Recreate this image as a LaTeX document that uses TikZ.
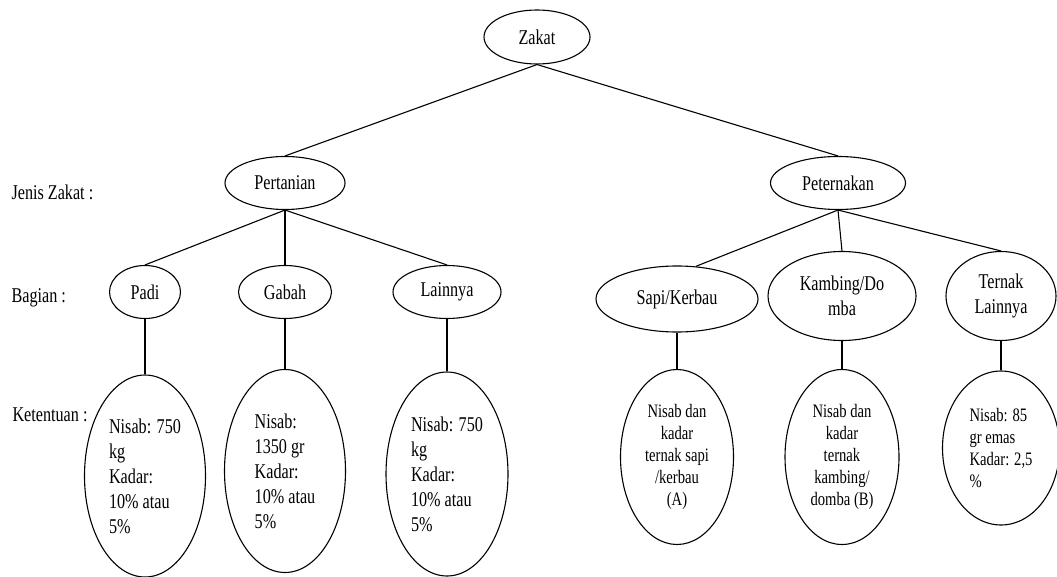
\documentclass[tikz,border=0pt]{standalone}
\usepackage{fontspec}
\setmainfont[FakeStretch=0.77]{Liberation Serif}
\usepackage{tikz}
\usetikzlibrary{shapes.geometric}

\begin{document}
\begin{tikzpicture}[x=1pt, y=-1pt, line width=1.1pt,
  oval/.style={draw, ellipse, inner sep=0pt, align=center,
    font=\fontsize{21}{25}\selectfont},
  rule/.style={draw, ellipse, inner sep=0pt, align=left,
    font=\fontsize{21}{25}\selectfont},
  rulesmall/.style={draw, ellipse, inner sep=0pt, align=center,
    font=\fontsize{19}{22}\selectfont},
  rowlabel/.style={anchor=west, inner sep=0pt,
    font=\fontsize{21}{25}\selectfont}]
  \useasboundingbox (0,0) rectangle (1057,577);

  % ── Row labels ──
  \node[rowlabel] (lblJenis) at (11,192) {Jenis Zakat :};
  \node[rowlabel] (lblBagian) at (11,298) {Bagian :};
  \node[rowlabel] (lblKetentuan) at (12,415) {Ketentuan :};

  % ── Root ──
  \node[oval, minimum width=106, minimum height=54] (zakat) at (537,37) {Zakat};

  % ── Jenis zakat ──
  \node[oval, minimum width=120, minimum height=53] (pertanian) at (285,183) {Pertanian};
  \node[oval, minimum width=135, minimum height=53] (peternakan) at (838,183) {Peternakan};
  \draw (zakat.south) -- (pertanian.north);
  \draw (zakat.south) -- (peternakan.north);

  % ── Bagian pertanian ──
  \node[oval, minimum width=71, minimum height=53] (padi) at (145,292) {Padi};
  \node[oval, minimum width=93, minimum height=53] (gabah) at (285,292) {Gabah};
  \node[oval, minimum width=108, minimum height=53] (lainnya) at (447,292) {Lainnya};
  \draw (pertanian.south) -- (padi.north);
  \draw (pertanian.south) -- (gabah.north);
  \draw (pertanian.south) -- (lainnya.north);

  % ── Bagian peternakan ──
  \node[oval, minimum width=162, minimum height=66] (sapi) at (677,299) {Sapi/Kerbau};
  \node[oval, minimum width=148, minimum height=89] (kambing) at (842,296) {Kambing/Do\\mba};
  \node[oval, minimum width=110, minimum height=89] (ternak) at (1001,296) {Ternak\\Lainnya};
  \draw (peternakan.south) -- (sapi.60);
  \draw (peternakan.south) -- (kambing.north);
  \draw (peternakan.south) -- (ternak.north);

  % ── Ketentuan pertanian ──
  \node[rule, minimum width=121, minimum height=202] (ketPadi) at (145,476)
    {Nisab: 750\\kg\\Kadar:\\10\% atau\\5\%};
  \node[rule, minimum width=121, minimum height=203] (ketGabah) at (285,471)
    {Nisab:\\1350 gr\\Kadar:\\10\% atau\\5\%};
  \node[rule, minimum width=122, minimum height=204] (ketLainnya) at (447,474)
    {Nisab: 750\\kg\\Kadar:\\10\% atau\\5\%};
  \draw (padi.south) -- (ketPadi.north);
  \draw (gabah.south) -- (ketGabah.north);
  \draw (lainnya.south) -- (ketLainnya.north);

  % ── Ketentuan peternakan ──
  \node[rulesmall, minimum width=113, minimum height=175] (ketSapi) at (677,457)
    {Nisab dan\\kadar\\ternak sapi\\/kerbau\\(A)};
  \node[rulesmall, minimum width=114, minimum height=175] (ketKambing) at (842,457)
    {Nisab dan\\kadar\\ternak\\kambing/\\domba (B)};
  \node[rulesmall, align=left, minimum width=117, minimum height=154] (ketTernak) at (1001,448)
    {Nisab: 85\\gr emas\\Kadar: 2,5\\\%};
  \draw (sapi.south) -- (ketSapi.north);
  \draw (kambing.south) -- (ketKambing.north);
  \draw (ternak.south) -- (ketTernak.north);
\end{tikzpicture}
\end{document}
